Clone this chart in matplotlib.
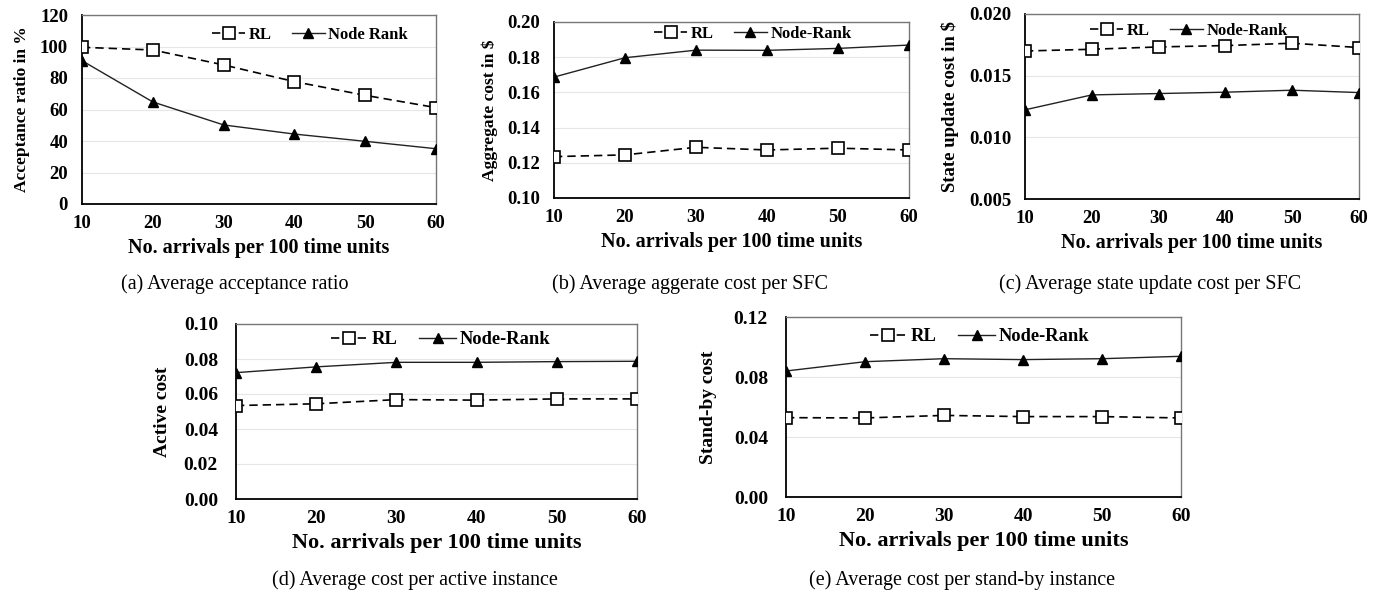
import numpy as np
import matplotlib
matplotlib.use("Agg")
import matplotlib.pyplot as plt

plt.rcParams['font.family'] = ['Liberation Serif', 'DejaVu Serif']

W, H = 1381, 595

# data
arrivals = [10, 20, 30, 40, 50, 60]

acc_rl = [99.5, 97.8, 88.3, 77.7, 69.0, 61.2]
acc_nr = [91.0, 64.8, 50.2, 44.4, 39.8, 35.1]

agg_rl = [0.1235, 0.1245, 0.1288, 0.1273, 0.1283, 0.1273]
agg_nr = [0.1687, 0.1797, 0.1840, 0.1839, 0.1850, 0.1869]

upd_rl = [0.01700, 0.01714, 0.01733, 0.01744, 0.01763, 0.01728]
upd_nr = [0.01223, 0.01344, 0.01355, 0.01366, 0.01382, 0.01363]

act_rl = [0.0534, 0.0544, 0.0568, 0.0565, 0.0572, 0.0572]
act_nr = [0.0722, 0.0755, 0.0781, 0.0781, 0.0785, 0.0787]

sb_rl = [0.0529, 0.0527, 0.0544, 0.0536, 0.0536, 0.0527]
sb_nr = [0.0840, 0.0902, 0.0922, 0.0916, 0.0922, 0.0938]

xlabel = "No. arrivals per 100 time units"


def box(l, t, r, b):
    return [l / W, 1 - b / H, (r - l) / W, (b - t) / H]


panels = [
    dict(pos=box(82, 15, 436, 204), rl=acc_rl, nr=acc_nr, nr_name="Node Rank",
         ylabel="Acceptance ratio in %", ylim=(0, 120), yticks=np.arange(0, 121, 20),
         fmt="{:.0f}", leg=(0.644, 0.895), fs=13.5, xfs=14.5, yfs=12.5, gfs=12,
         ypad=10, lpad=7,
         cap="(a) Average acceptance ratio", cap_xy=(235, 284)),
    dict(pos=box(554, 22, 909, 198), rl=agg_rl, nr=agg_nr, nr_name="Node-Rank",
         ylabel="Aggregate cost in \\$", ylim=(0.10, 0.20), yticks=np.arange(0.10, 0.201, 0.02),
         fmt="{:.2f}", leg=(0.56, 0.93), fs=13.5, xfs=14.5, yfs=12.5, gfs=12,
         ypad=10, lpad=7,
         cap="(b) Average aggerate cost per SFC", cap_xy=(690, 284)),
    dict(pos=box(1025, 14, 1359, 199), rl=upd_rl, nr=upd_nr, nr_name="Node-Rank",
         ylabel="State update cost in \\$", ylim=(0.005, 0.020), yticks=np.arange(0.005, 0.0201, 0.005),
         fmt="{:.3f}", leg=(0.49, 0.91), fs=13.5, xfs=14.5, yfs=13.5, gfs=12,
         ypad=10, lpad=7,
         cap="(c) Average state update cost per SFC", cap_xy=(1150, 284)),
    dict(pos=box(236, 324, 637, 499), rl=act_rl, nr=act_nr, nr_name="Node-Rank",
         ylabel="Active cost", ylim=(0, 0.10), yticks=np.arange(0, 0.101, 0.02),
         fmt="{:.2f}", leg=(0.51, 0.91), fs=14, xfs=16, yfs=14, gfs=13.3,
         ypad=13, lpad=9,
         cap="(d) Average cost per active instance", cap_xy=(415, 580)),
    dict(pos=box(786, 317, 1181, 497), rl=sb_rl, nr=sb_nr, nr_name="Node-Rank",
         ylabel="Stand-by cost", ylim=(0, 0.12), yticks=np.arange(0, 0.121, 0.04),
         fmt="{:.2f}", leg=(0.49, 0.89), fs=14, xfs=16, yfs=14, gfs=13.3,
         ypad=13, lpad=12,
         cap="(e) Average cost per stand-by instance", cap_xy=(962, 580)),
]

fig = plt.figure(figsize=(W / 100, H / 100), dpi=100)

for p in panels:
    ax = fig.add_axes(p["pos"])
    ax.plot(arrivals, p["rl"], linestyle=(0, (5, 3)), color="black", lw=1.2,
            marker="s", markersize=8, markerfacecolor="white", markeredgecolor="black",
            markeredgewidth=1.2, label="RL", zorder=3)
    ax.plot(arrivals, p["nr"], linestyle="-", color="#222222", lw=1.0,
            marker="^", markersize=7, markerfacecolor="black", markeredgecolor="black",
            label=p["nr_name"], zorder=3)
    ax.set_xlim(10, 60)
    ax.set_xticks(arrivals)
    ax.set_ylim(*p["ylim"])
    ax.set_yticks(p["yticks"])
    ax.set_yticklabels([p["fmt"].format(v) for v in p["yticks"]])
    ax.grid(axis="y", color="#e6e6e6", lw=0.8)
    ax.set_axisbelow(True)
    ax.tick_params(length=0, labelsize=p["fs"])
    ax.tick_params(axis="x", pad=8)
    ax.tick_params(axis="y", pad=p["ypad"])
    for lab in ax.get_xticklabels() + ax.get_yticklabels():
        lab.set_fontweight("bold")
    for s in ["left", "bottom"]:
        ax.spines[s].set_color("black")
        ax.spines[s].set_linewidth(1.3)
    for s in ["top", "right"]:
        ax.spines[s].set_color("#777777")
        ax.spines[s].set_linewidth(1.0)
    ax.set_xlabel(xlabel, fontsize=p["xfs"], fontweight="bold", labelpad=4)
    ax.set_ylabel(p["ylabel"], fontsize=p["yfs"], fontweight="bold", labelpad=p["lpad"])
    ax.legend(loc="center", bbox_to_anchor=p["leg"], ncol=2, frameon=False,
              handlelength=2.0, handletextpad=0.2, columnspacing=1.2,
              prop=dict(weight="bold", size=p["gfs"]))
    fig.text(p["cap_xy"][0] / W, 1 - p["cap_xy"][1] / H, p["cap"],
             ha="center", va="center", fontsize=14.5)

fig.savefig("out.png", dpi=100)
